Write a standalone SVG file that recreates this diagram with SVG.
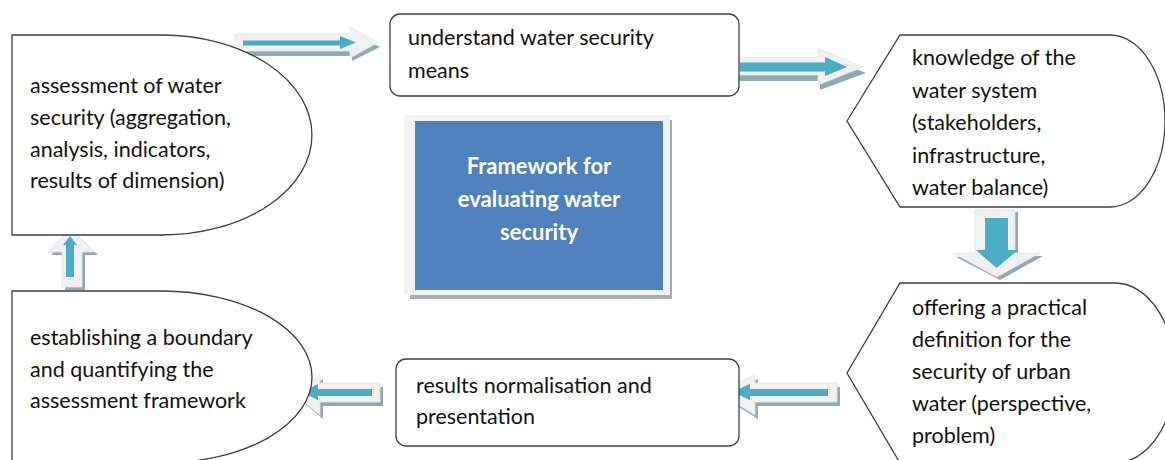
<svg xmlns="http://www.w3.org/2000/svg" width="1165" height="460" viewBox="0 0 1165 460">
<style>
.node{fill:#ffffff;stroke:#3f3f3f;stroke-width:1.3}
.t{font-family:Lato,"Liberation Sans",sans-serif;font-size:21.5px;fill:#111111}
.ct{font-family:Lato,"Liberation Sans",sans-serif;font-size:22px;font-weight:bold;fill:#ffffff;text-anchor:middle}
.halo{fill:#f1f1f1;stroke:#e4e4e4;stroke-width:0.8}
.shadow{fill:#8faab5}
.core{fill:#4bacc6}
</style>
<rect width="1165" height="460" fill="#ffffff"/>

<g id="connectors">
  <g id="arrow1">
    <polygon class="shadow" points="238,40 352,40 352,33 380,47 352,61 352,56 238,56"/>
    <polygon class="halo" points="235,34 350,34 350,27 378,42.5 350,58 350,51 235,51"/>
    <polygon class="core" points="243,40.5 340,40.5 340,36 356,42.5 340,49 340,45.5 243,45.5"/>
  </g>
  <g id="arrow2">
    <polygon class="shadow" points="712,63 820,63 820,54 866,73 820,90 820,81 712,81 722,72"/>
    <polygon class="halo" points="708,57 818,57 818,48 863,67 818,85 818,75 708,75 720,66"/>
    <polygon class="core" points="740,62.5 825,62.5 825,57 847,67 825,76 825,71.5 740,71.5"/>
  </g>
  <g id="arrow3">
    <polygon class="shadow" points="979,212 1018,212 1018,256 1043,256 1000,280 956,257 979,257"/>
    <polygon class="halo" points="975,210 1015,210 1015,253 1040,253 997,277 953,253 975,253"/>
    <polygon class="core" points="985,218 1008,218 1008,250 1018,250 996.5,268 976,250 985,250"/>
  </g>
  <g id="arrow4">
    <polygon class="shadow" points="721,396 758,379 758,387 840,387 840,406 758,406 758,419"/>
    <polygon class="halo" points="717,392 755,375 755,383 837,383 837,402 755,402 755,415"/>
    <polygon class="core" points="732,392 750,384 750,389 828,389 828,396 750,396 750,400"/>
  </g>
  <g id="arrow5">
    <polygon class="shadow" points="296,396 323,379 323,387 383,387 383,406 323,406 323,419"/>
    <polygon class="halo" points="292,392 320,375 320,383 380,383 380,402 320,402 320,415"/>
    <polygon class="core" points="302,392 318,384 318,389 372,389 372,396 318,396 318,400"/>
  </g>
  <g id="arrow6">
    <polygon class="shadow" points="73,231 98,255 85,255 85,290 65,290 65,255 51,255"/>
    <polygon class="halo" points="70,228 95,252 82,252 82,287 62,287 62,252 48,252"/>
    <polygon class="core" points="70,236 77,245 74,245 74,277 66,277 66,245 63,245"/>
  </g>
</g>

<g id="node-assessment">
  <path class="node" d="M12,35 L162,35 A150,100 0 0 1 162,235 L12,235 Z"/>
  <text class="t" x="30" y="93">assessment of water</text>
  <text class="t" x="30" y="125">security (aggregation,</text>
  <text class="t" x="30" y="157">analysis, indicators,</text>
  <text class="t" x="30" y="188">results of dimension)</text>
</g>

<g id="node-understand">
  <rect class="node" x="390" y="14" width="349" height="82" rx="10"/>
  <text class="t" x="408" y="45">understand water security</text>
  <text class="t" x="408" y="78">means</text>
</g>

<g id="node-knowledge">
  <path class="node" d="M847,121 L900,35 L1110,35 A55,86 0 0 1 1110,207 L900,207 Z"/>
  <text class="t" x="912" y="65">knowledge of the</text>
  <text class="t" x="912" y="98">water system</text>
  <text class="t" x="912" y="130">(stakeholders,</text>
  <text class="t" x="912" y="163">infrastructure,</text>
  <text class="t" x="912" y="195">water balance)</text>
</g>

<g id="node-offering">
  <path class="node" d="M847,373 L900,283 L1115,283 A60,90 0 0 1 1115,463 L900,463 Z"/>
  <text class="t" x="912" y="315">offering a practical</text>
  <text class="t" x="912" y="347">definition for the</text>
  <text class="t" x="912" y="379">security of urban</text>
  <text class="t" x="912" y="411">water (perspective,</text>
  <text class="t" x="912" y="443">problem)</text>
</g>

<g id="node-results">
  <rect class="node" x="396" y="359" width="343" height="87" rx="10"/>
  <text class="t" x="416" y="393">results normalisation and</text>
  <text class="t" x="416" y="424">presentation</text>
</g>

<g id="node-boundary">
  <path class="node" d="M12,291 L162,291 A150,86 0 0 1 162,463 L12,463 Z"/>
  <text class="t" x="30" y="345">establishing a boundary</text>
  <text class="t" x="30" y="377">and quantifying the</text>
  <text class="t" x="30" y="408">assessment framework</text>
</g>

<g id="node-framework">
  <rect x="410" y="120" width="262" height="179" fill="#a3abb3"/>
  <rect x="404" y="115" width="266" height="180" fill="#f2f2f2"/>
  <rect x="415" y="121" width="248" height="169" fill="#4f81bd"/>
  <text class="ct" x="539" y="174">Framework for</text>
  <text class="ct" x="539" y="207">evaluating water</text>
  <text class="ct" x="539" y="240">security</text>
</g>
</svg>
